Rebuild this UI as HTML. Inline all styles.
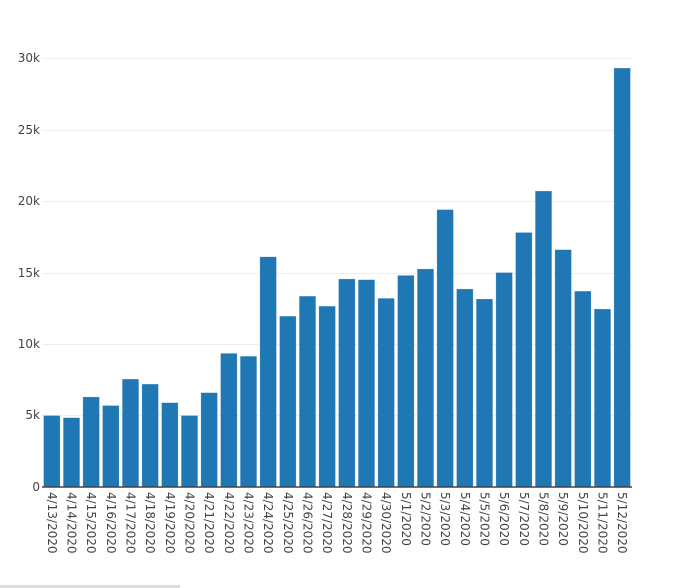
<!DOCTYPE html><html><head><style>body{margin:0;background:#fff}svg{display:block}text{font-family:"DejaVu Sans",sans-serif;font-size:12px;fill:#444}</style></head><body>
<svg width="681" height="588" xmlns="http://www.w3.org/2000/svg">
<g stroke="#eee" stroke-width="1">
<line x1="42" x2="632" y1="58.5" y2="58.5"/><line x1="42" x2="632" y1="130.5" y2="130.5"/><line x1="42" x2="632" y1="201.5" y2="201.5"/><line x1="42" x2="632" y1="273.5" y2="273.5"/><line x1="42" x2="632" y1="344.5" y2="344.5"/><line x1="42" x2="632" y1="415.5" y2="415.5"/>
</g>
<g text-anchor="end">
<text x="40" y="62">30k</text><text x="40" y="134">25k</text><text x="40" y="205">20k</text><text x="40" y="277">15k</text><text x="40" y="348">10k</text><text x="40" y="419">5k</text><text x="40" y="491">0</text>
</g>
<g id="bars" fill="#1f77b4" stroke="#fff" stroke-opacity="0.5" stroke-width="0.5"></g>
<line x1="42" x2="632" y1="487" y2="487" stroke="#444" stroke-width="1.5"/>
<g id="labels"></g>
<rect x="0" y="585" width="180" height="3" fill="#ddd"/>
<script>
var v=[5.0,4.85,6.3,5.7,7.55,7.2,5.9,5.0,6.6,9.35,9.15,16.1,11.95,13.35,12.65,14.55,14.5,13.2,14.8,15.25,19.4,13.85,13.15,15.0,17.8,20.7,16.6,13.7,12.45,29.3];
var d=[];for(var i=13;i<=30;i++)d.push("4/"+i+"/2020");for(var i=1;i<=12;i++)d.push("5/"+i+"/2020");
var b=document.getElementById("bars"),l=document.getElementById("labels"),ns="http://www.w3.org/2000/svg";
var step=590/30;
for(var i=0;i<30;i++){var cx=42+step*(i+0.5),h=v[i]*14.3;
var r=document.createElementNS(ns,"rect");r.setAttribute("x",cx-8.3);r.setAttribute("width",16.6);r.setAttribute("y",487-h);r.setAttribute("height",h);b.appendChild(r);
var t=document.createElementNS(ns,"text");t.setAttribute("transform","translate("+(cx-4)+",492) rotate(90)");t.textContent=d[i];l.appendChild(t);}
</script>
</svg></body></html>
